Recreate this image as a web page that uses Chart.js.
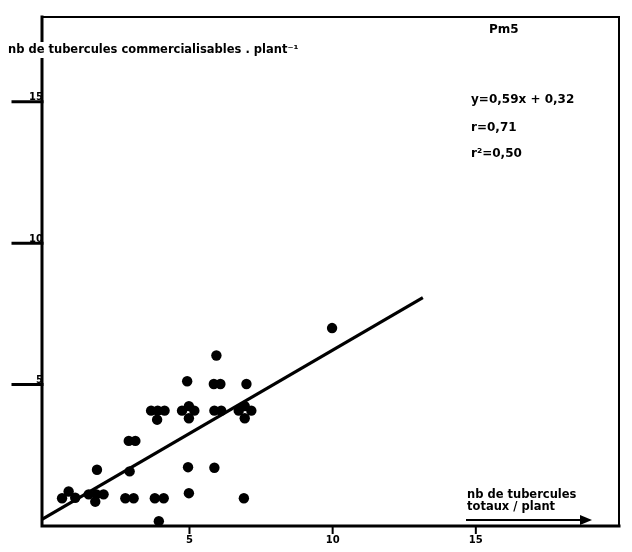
<!DOCTYPE html>
<html>
<head>
<meta charset="utf-8">
<script src="https://cdn.jsdelivr.net/npm/chart.js@4.4.0/dist/chart.umd.min.js"></script>
<style>
  html, body { margin: 0; padding: 0; background: #fff; }
</style>
</head>
<body>
<canvas id="chartContainer" width="632" height="552"></canvas>
<script>
// tubers per plant: total (x) vs marketable (y); repeated values are drawn side by side
const xValues = [
  0.55, 0.78, 1.01,
  1.48, 1.75, 2.00, 1.71,
  1.77,
  2.76, 3.05, 2.91, 2.88, 3.11,
  3.79, 4.10, 3.93,
  3.66, 3.89, 4.13, 3.87,
  4.98, 4.95,
  4.74, 4.98, 5.17, 4.98,
  4.92,
  5.87, 5.87, 6.11, 5.85, 6.08, 5.94,
  6.90,
  6.72, 6.93, 7.16, 6.93,
  6.99,
  9.98
];
const yValues = [
  0.98, 1.22, 1.00,
  1.12, 1.12, 1.12, 0.86,
  1.99,
  0.98, 0.98, 1.93, 3.01, 3.01,
  0.98, 0.98, 0.17,
  4.08, 4.08, 4.08, 3.76,
  1.16, 2.08,
  4.08, 4.24, 4.08, 3.81,
  5.12,
  2.06, 4.08, 4.08, 5.02, 5.02, 6.03,
  0.98,
  4.08, 4.24, 4.08, 3.81,
  5.02,
  7.00
];
const xTicks = [5, 10, 15];
const yTicks = [5, 10, 15];

// fitted line y = 0.59x + 0.32
const slope = 0.59;
const intercept = 0.32;
const fitFrom = -0.15;
const fitTo = 13.15;

const points = xValues.map((v, i) => ({ x: v, y: yValues[i] }));
const fitLine = [fitFrom, fitTo].map(v => ({ x: v, y: slope * v + intercept }));

const ink = '#000';
const boldFont = size => 'bold ' + size + 'px "DejaVu Sans"';

const framePlugin = {
  id: 'frame',
  beforeDatasetsDraw(chart) {
    const { ctx, chartArea: a, scales: { x, y } } = chart;
    ctx.save();
    ctx.strokeStyle = ink;
    ctx.fillStyle = ink;
    ctx.lineCap = 'square';

    // top and right edges of the box
    ctx.lineWidth = 2;
    ctx.beginPath();
    ctx.moveTo(a.left, a.top);
    ctx.lineTo(a.right, a.top);
    ctx.lineTo(a.right, a.bottom);
    ctx.stroke();

    // axes
    ctx.lineWidth = 3;
    ctx.beginPath();
    ctx.moveTo(a.left, a.top);
    ctx.lineTo(a.left, a.bottom);
    ctx.lineTo(a.right, a.bottom);
    ctx.stroke();

    // y ticks: long dash to the left, number sitting on it
    ctx.font = boldFont(10);
    ctx.textAlign = 'right';
    ctx.textBaseline = 'bottom';
    yTicks.forEach(v => {
      const py = y.getPixelForValue(v);
      ctx.lineWidth = 3;
      ctx.beginPath();
      ctx.moveTo(a.left - 29, py);
      ctx.lineTo(a.left, py);
      ctx.stroke();
      ctx.fillText(String(v), a.left + 1, py + 1);
    });

    // x ticks
    ctx.textAlign = 'center';
    ctx.textBaseline = 'top';
    xTicks.forEach(v => {
      const px = x.getPixelForValue(v);
      ctx.lineWidth = 2;
      ctx.beginPath();
      ctx.moveTo(px, a.bottom);
      ctx.lineTo(px, a.bottom + 7);
      ctx.stroke();
      ctx.fillText(String(v), px, a.bottom + 9);
    });

    // y axis title, cutting through the left edge
    ctx.font = boldFont(11.5);
    ctx.textAlign = 'left';
    ctx.textBaseline = 'middle';
    const title = 'nb de tubercules commercialisables . plant\u207B\u00B9';
    const tw = ctx.measureText(title).width;
    ctx.fillStyle = '#fff';
    ctx.fillRect(6, 42, tw + 4, 16);
    ctx.fillStyle = ink;
    ctx.fillText(title, 8, 50);

    // variety and regression stats
    ctx.font = boldFont(12);
    ctx.fillText('Pm5', 489, 30);
    ctx.fillText('y=0,59x + 0,32', 471, 100);
    ctx.fillText('r=0,71', 471, 128);
    ctx.fillText('r\u00B2=0,50', 471, 154);

    // x axis title with arrow
    ctx.font = boldFont(11.5);
    ctx.fillText('nb de tubercules', 467, 495);
    ctx.fillText('totaux / plant', 467, 507);
    ctx.lineWidth = 2;
    ctx.beginPath();
    ctx.moveTo(467, 520);
    ctx.lineTo(584, 520);
    ctx.stroke();
    ctx.beginPath();
    ctx.moveTo(592, 520);
    ctx.lineTo(580, 515);
    ctx.lineTo(580, 525);
    ctx.closePath();
    ctx.fill();

    ctx.restore();
  }
};

const ctx = document.getElementById('chartContainer').getContext('2d');
const chart = new Chart(ctx, {
  type: 'scatter',
  data: {
    datasets: [
      {
        label: 'plants',
        data: points,
        backgroundColor: ink,
        borderColor: ink,
        pointRadius: 5.2,
        pointBorderWidth: 0
      },
      {
        type: 'line',
        label: 'fit',
        data: fitLine,
        borderColor: ink,
        borderWidth: 3.2,
        pointRadius: 0,
        fill: false
      }
    ]
  },
  options: {
    responsive: false,
    animation: false,
    layout: { padding: { left: 42, right: 13, top: 17, bottom: 26 } },
    plugins: { legend: { display: false }, tooltip: { enabled: false } },
    scales: {
      x: { type: 'linear', min: -0.15, max: 20, display: false },
      y: { type: 'linear', min: 0, max: 18, display: false }
    }
  },
  plugins: [framePlugin]
});
</script>
</body>
</html>
